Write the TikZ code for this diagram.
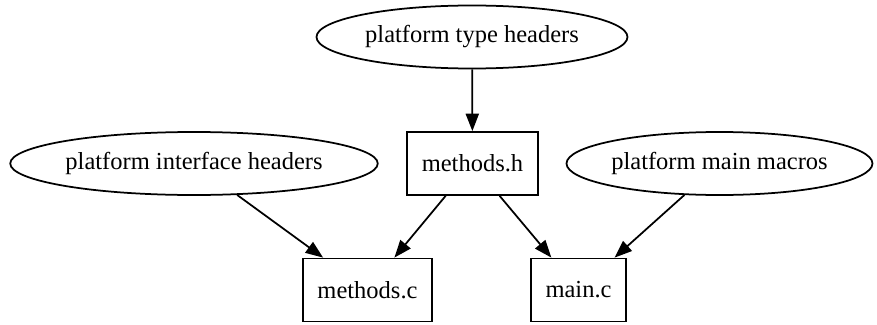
\documentclass[tikz,border=0pt]{standalone}
\usepackage{fontspec}
\setmainfont{Liberation Serif}
\usetikzlibrary{shapes.geometric,arrows.meta}

\begin{document}
\begin{tikzpicture}[x=0.5714pt,y=-0.5714pt,
  every node/.style={font=\fontsize{14}{16}\selectfont, line width=1pt, draw, inner sep=0pt},
  hdr/.style={ellipse, minimum height=36pt},
  src/.style={rectangle, minimum height=36pt},
  dep/.style={line width=1pt, -{Triangle[length=10pt,width=7.5pt]}}]
  \useasboundingbox (0,0) rectangle (877,324);

  % header groups and sources
  \node[hdr, minimum width=177.7pt] (types) at (472,37) {platform type headers};
  \node[src, minimum width=75pt] (mh) at (472.5,163.5) {methods.h};
  \node[hdr, minimum width=210pt] (iface) at (194,163.5) {platform interface headers};
  \node[hdr, minimum width=172pt] (macros) at (719.5,163.5) {platform main macros};
  \node[src, minimum width=74pt] (mc) at (367.5,290) {methods.c};
  \node[src, minimum width=54pt] (mainc) at (578.5,290) {main.c};

  % dependencies
  \draw[dep] (types) -- (mh);
  \draw[dep] (iface) -- (mc);
  \draw[dep] (mh) -- (mc);
  \draw[dep] (mh) -- (mainc);
  \draw[dep] (macros) -- (mainc);
\end{tikzpicture}
\end{document}
